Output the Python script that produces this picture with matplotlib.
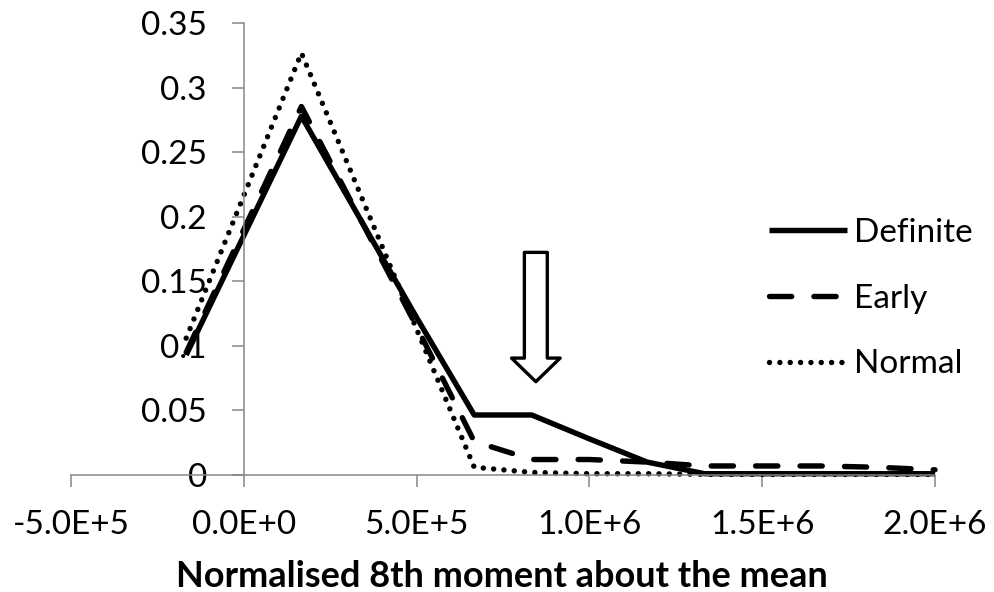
import matplotlib
matplotlib.use("Agg")
import matplotlib.pyplot as plt

plt.rcParams["font.family"] = ["Lato", "DejaVu Sans"]

# values
x_vals = [-1.667e5, 1.667e5, 5.0e5, 6.667e5, 8.333e5, 1.0e6, 1.167e6,
          1.333e6, 1.5e6, 1.667e6, 1.833e6, 2.0e6]
definite = [0.093, 0.278, 0.122, 0.0465, 0.0465, 0.028, 0.010,
            0.001, 0.001, 0.001, 0.001, 0.001]
early = [0.095, 0.2855, 0.115, 0.026, 0.012, 0.012, 0.010,
         0.007, 0.007, 0.007, 0.006, 0.004]
normal = [0.106, 0.327, 0.113, 0.006, 0.002, 0.001, 0.001,
          0.0005, 0.0005, 0.0005, 0.0005, 0.0005]

x_ticks = [-5e5, 0, 5e5, 1e6, 1.5e6, 2e6]
x_labels = ["-5.0E+5", "0.0E+0", "5.0E+5", "1.0E+6", "1.5E+6", "2.0E+6"]
y_ticks = [0, 0.05, 0.1, 0.15, 0.2, 0.25, 0.3, 0.35]
y_labels = ["0", "0.05", "0.1", "0.15", "0.2", "0.25", "0.3", "0.35"]

fig = plt.figure(figsize=(9.94, 5.92), dpi=100)
ax = fig.add_axes([71 / 994, 1 - 475 / 592, (935 - 71) / 994, (475 - 23.3) / 592])

lw = 3.9
ax.plot(x_vals, definite, color="black", lw=lw, solid_joinstyle="round",
        solid_capstyle="butt", label="Definite", clip_on=False)
ax.plot(x_vals, early, color="black", lw=lw, linestyle=(0, (4.1, 4.1)),
        dash_capstyle="round", dash_joinstyle="round", label="Early", clip_on=False)
ax.plot(x_vals, normal, color="black", lw=lw, linestyle=(0, (0.01, 1.9)),
        dash_capstyle="round", label="Normal", clip_on=False)

ax.set_xlim(-5e5, 2e6)
ax.set_ylim(0, 0.35)

axis_grey = "#868686"
for side in ("top", "right"):
    ax.spines[side].set_visible(False)
ax.spines["left"].set_position(("data", 0))
ax.spines["bottom"].set_position(("data", 0))
for side in ("left", "bottom"):
    ax.spines[side].set_color(axis_grey)
    ax.spines[side].set_linewidth(1.1)

ax.set_xticks(x_ticks)
ax.set_xticklabels(x_labels)
ax.set_yticks(y_ticks)
ax.set_yticklabels(y_labels)
ax.tick_params(axis="both", direction="out", length=8.5, width=1.1,
               color=axis_grey, labelsize=24, labelcolor="black")
ax.tick_params(axis="y", pad=18)
ax.tick_params(axis="x", pad=17)

fig.text(502 / 994, 1 - 587 / 592, "Normalised 8th moment about the mean",
         fontsize=26, fontweight="bold", ha="center", va="baseline")

# hollow block arrow marking the shoulder of the Definite curve
ax.annotate("", xy=(8.45e5, 0.0723), xytext=(8.45e5, 0.1725),
            arrowprops=dict(arrowstyle="simple,head_length=17,head_width=35,tail_width=16.5",
                            mutation_scale=1, fc="white", ec="black", lw=2.4,
                            shrinkA=0, shrinkB=0))

ax.legend(loc="upper left", bbox_to_anchor=(769 / 994, 1 - 218 / 592),
          bbox_transform=fig.transFigure, frameon=False, fontsize=24,
          handlelength=2.34, handletextpad=0.2, labelspacing=1.07,
          borderpad=0, borderaxespad=0)

fig.savefig("out.png", dpi=100)
